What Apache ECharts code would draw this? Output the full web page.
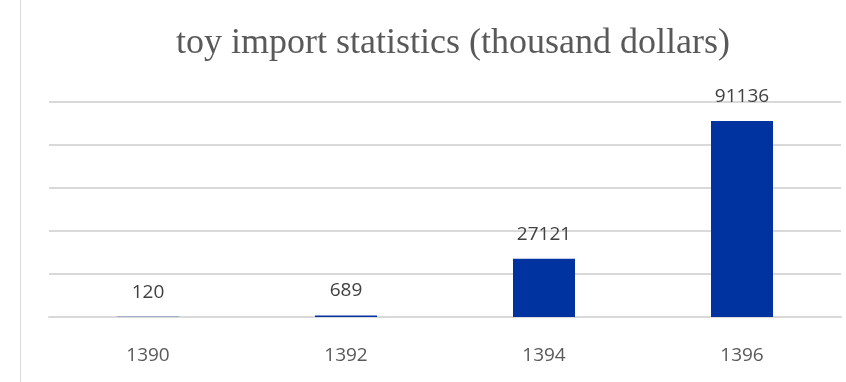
<!DOCTYPE html>
<html>
<head>
<meta charset="utf-8">
<script src="https://cdn.jsdelivr.net/npm/echarts@6/dist/echarts.min.js"></script>
<style>
  html, body { margin: 0; padding: 0; background: #fff; }
  #main { width: 846px; height: 382px; }
</style>
</head>
<body>
<div id="main"></div>
<script>
const years = ["1390", "1392", "1394", "1396"];
const imports = [120, 689, 27121, 91136];
const yMin = 0, yMax = 100000, yStep = 20000;

const chart = echarts.init(document.getElementById("main"));
chart.setOption({
  animation: false,
  title: {
    text: "toy import statistics (thousand dollars)",
    left: 448,
    textAlign: "center",
    top: 21,
    textStyle: {
      fontFamily: "Liberation Serif",
      fontSize: 36,
      fontWeight: "normal",
      color: "#595959"
    }
  },
  grid: { left: 49, right: 5, top: 102, bottom: 65 },
  graphic: [
    {
      type: "line",
      shape: { x1: 20.5, y1: 0, x2: 20.5, y2: 382 },
      style: { stroke: "#d9d9d9", lineWidth: 1 }
    }
  ],
  xAxis: {
    type: "category",
    data: years,
    axisLine: { show: true, lineStyle: { color: "#d9d9d9", width: 2 } },
    axisTick: { show: false },
    axisLabel: {
      margin: 29,
      fontFamily: "Open Sans",
      fontSize: 19,
      color: "#595959"
    }
  },
  yAxis: {
    type: "value",
    min: yMin,
    max: yMax,
    interval: yStep,
    axisLabel: { show: false },
    axisLine: { show: false },
    axisTick: { show: false },
    splitLine: { lineStyle: { color: "#d9d9d9", width: 2 } }
  },
  series: [
    {
      type: "bar",
      data: imports,
      barWidth: 62,
      itemStyle: { color: "#0033a0" },
      label: {
        show: true,
        position: "top",
        distance: 15,
        fontFamily: "Open Sans",
        fontSize: 19,
        color: "#404040"
      }
    }
  ]
});
</script>
</body>
</html>
